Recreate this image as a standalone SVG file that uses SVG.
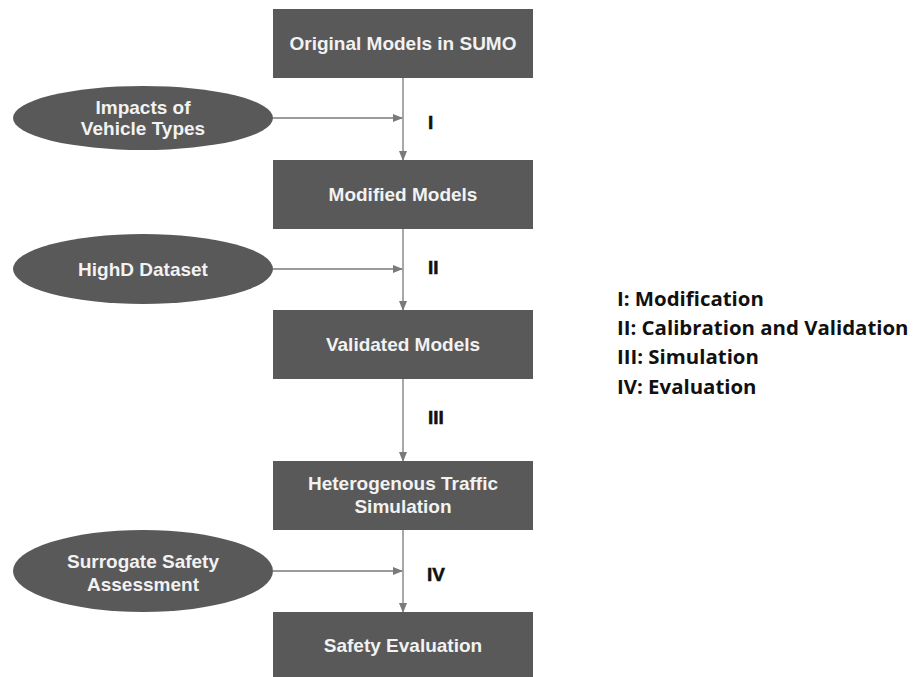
<svg xmlns="http://www.w3.org/2000/svg" width="913" height="677" viewBox="0 0 913 677">
<style>
.box{fill:#595959}
.ell{fill:#595959}
.t{font-family:"Liberation Sans",Arial,sans-serif;font-weight:bold;font-size:19px;fill:#f2f2f2;text-anchor:middle}
.r{font-family:"Liberation Sans",Arial,sans-serif;font-weight:bold;font-size:19px;fill:#111;stroke:#111;stroke-width:0.5}
.lg{font-family:"Open Sans","Noto Sans",sans-serif;font-weight:bold;font-size:20.4px;fill:#111}
.c{stroke:#7a7a7a;stroke-width:1.3;fill:none;marker-end:url(#ah)}
</style>
<defs>
<marker id="ah" markerWidth="10" markerHeight="8" refX="9" refY="4" orient="auto" markerUnits="userSpaceOnUse">
<path d="M0,0 L10,4 L0,8 Z" fill="#7a7a7a"/>
</marker>
</defs>
<rect width="913" height="677" fill="#fff"/>
<g id="connectors">
<line class="c" x1="403" y1="78" x2="403" y2="160"/>
<line class="c" x1="273" y1="118" x2="402" y2="118"/>
<line class="c" x1="403" y1="229" x2="403" y2="310"/>
<line class="c" x1="273" y1="269" x2="402" y2="269"/>
<line class="c" x1="403" y1="379" x2="403" y2="461"/>
<line class="c" x1="403" y1="530" x2="403" y2="612"/>
<line class="c" x1="273" y1="571" x2="402" y2="571"/>
</g>
<g id="labels">
<text class="r" x="428" y="129">I</text>
<text class="r" x="428" y="274">II</text>
<text class="r" x="428" y="424">III</text>
<text class="r" x="427" y="581">IV</text>
</g>
<g id="n1"><rect class="box" x="273" y="9" width="260" height="69"/><text class="t" x="403" y="50">Original Models in SUMO</text></g>
<g id="n2"><rect class="box" x="273" y="160" width="260" height="69"/><text class="t" x="403" y="201">Modified Models</text></g>
<g id="n3"><rect class="box" x="273" y="310" width="260" height="69"/><text class="t" x="403" y="351">Validated Models</text></g>
<g id="n4"><rect class="box" x="273" y="461" width="260" height="69"/><text class="t" x="403" y="490">Heterogenous Traffic</text><text class="t" x="403" y="513">Simulation</text></g>
<g id="n5"><rect class="box" x="273" y="612" width="260" height="68"/><text class="t" x="403" y="652">Safety Evaluation</text></g>
<g id="e1"><ellipse class="ell" cx="143" cy="118" rx="130" ry="32"/><text class="t" x="143" y="114">Impacts of</text><text class="t" x="143" y="135">Vehicle Types</text></g>
<g id="e2"><ellipse class="ell" cx="143" cy="269" rx="130" ry="35"/><text class="t" x="143" y="276">HighD Dataset</text></g>
<g id="e3"><ellipse class="ell" cx="143" cy="571" rx="130" ry="41"/><text class="t" x="143" y="568">Surrogate Safety</text><text class="t" x="143" y="591">Assessment</text></g>
<g id="legend">
<text class="lg" x="617" y="306">I: Modification</text>
<text class="lg" x="617" y="335">II: Calibration and Validation</text>
<text class="lg" x="617" y="364">III: Simulation</text>
<text class="lg" x="617" y="394">IV: Evaluation</text>
</g>
</svg>
